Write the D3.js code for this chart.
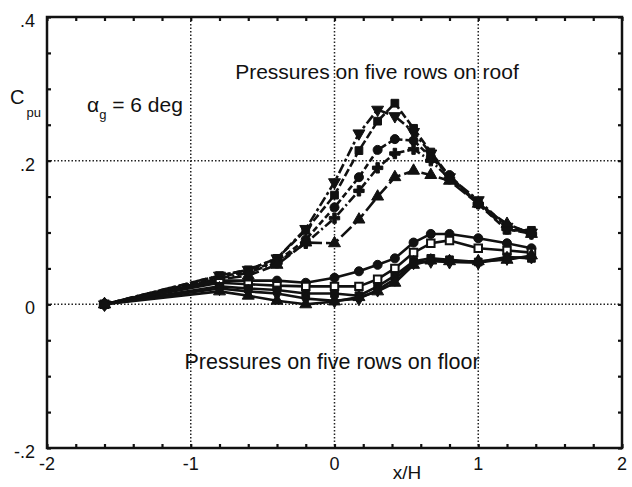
<!DOCTYPE html>
<html>
<head>
<meta charset="utf-8">
<script src="https://cdn.jsdelivr.net/npm/d3@7/dist/d3.min.js"></script>
<style>
  html, body { margin: 0; padding: 0; background: #fff; }
  svg { display: block; }
  text { font-family: "Liberation Sans", Arial, Helvetica, sans-serif; fill: #111; }
</style>
</head>
<body>
<svg id="chart" width="632" height="487"></svg>
<script>
// Tap positions along the model, x/H
const xPos = [-1.6, -0.8, -0.6, -0.4, -0.2, 0, 0.17, 0.3, 0.42, 0.55, 0.67, 0.8, 1.0, 1.2, 1.37];

// Roof rows (Cpu)
const roofRow1 = [0, 0.040, 0.048, 0.064, 0.105, 0.170, 0.238, 0.271, 0.262, 0.240, 0.210, 0.177, 0.145, 0.108, 0.100];
const roofRow2 = [0, 0.040, 0.048, 0.064, 0.103, 0.152, 0.214, 0.255, 0.280, 0.245, 0.212, 0.178, 0.140, 0.103, 0.103];
const roofRow3 = [0, 0.038, 0.046, 0.060, 0.090, 0.135, 0.177, 0.215, 0.230, 0.228, 0.205, 0.180, 0.140, 0.110, 0.100];
const roofRow4 = [0, 0.036, 0.044, 0.058, 0.085, 0.120, 0.158, 0.190, 0.210, 0.216, 0.200, 0.175, 0.140, 0.105, 0.098];
const roofRow5 = [0, 0.035, 0.040, 0.055, 0.086, 0.085, 0.118, 0.150, 0.177, 0.186, 0.180, 0.172, 0.140, 0.112, 0.098];

// Floor rows (Cpu)
const floorRow1 = [0, 0.033, 0.033, 0.033, 0.030, 0.037, 0.046, 0.055, 0.064, 0.086, 0.098, 0.098, 0.092, 0.085, 0.078];
const floorRow2 = [0, 0.030, 0.028, 0.026, 0.025, 0.025, 0.025, 0.035, 0.050, 0.072, 0.085, 0.089, 0.078, 0.075, 0.072];
const floorRow3 = [0, 0.025, 0.022, 0.020, 0.015, 0.015, 0.012, 0.025, 0.040, 0.060, 0.064, 0.062, 0.059, 0.066, 0.064];
const floorRow4 = [0, 0.022, 0.018, 0.015, 0.008, 0.005, 0.008, 0.020, 0.035, 0.058, 0.060, 0.059, 0.058, 0.064, 0.066];
const floorRow5 = [0, 0.018, 0.012, 0.005, 0.000, 0.004, 0.010, 0.018, 0.030, 0.055, 0.061, 0.060, 0.060, 0.062, 0.068];

const xTickLabels = ["-2", "-1", "0", "1", "2"];
const yTickLabels = ["-.2", "0", ".2", ".4"];
const xTickValues = [-2, -1, 0, 1, 2];
const yTickValues = [-0.2, 0, 0.2, 0.4];

const series = [
  { values: roofRow1, dash: "10,3,3,3", marker: "triangleDown" },
  { values: roofRow2, dash: "8,3",      marker: "square" },
  { values: roofRow3, dash: "6,3",      marker: "circle" },
  { values: roofRow4, dash: "9,3,2,3",  marker: "plus" },
  { values: roofRow5, dash: "14,4",     marker: "triangle" },
  { values: floorRow1, dash: null, marker: "circle" },
  { values: floorRow2, dash: null, marker: "squareOpen" },
  { values: floorRow3, dash: null, marker: "square" },
  { values: floorRow4, dash: null, marker: "diamond" },
  { values: floorRow5, dash: null, marker: "triangle" }
];

const svg = d3.select("#chart");
const x = d3.scaleLinear().domain([-2, 2]).range([47, 622]);
const y = d3.scaleLinear().domain([-0.2, 0.4]).range([448, 17]);

// dotted grid
const grid = svg.append("g").attr("stroke", "#222").attr("stroke-width", 1.5).attr("stroke-dasharray", "1.5,2");
[-1, 0, 1].forEach(v => grid.append("line").attr("x1", x(v)).attr("x2", x(v)).attr("y1", y(0.4)).attr("y2", y(-0.2)));
[0, 0.2].forEach(v => grid.append("line").attr("y1", y(v)).attr("y2", y(v)).attr("x1", x(-2)).attr("x2", x(2)));

// inward ticks on all four sides
const tickLen = 4;
svg.append("g").attr("transform", `translate(0,${y(-0.2)})`)
  .call(d3.axisTop(x).tickValues(d3.range(-2, 2.01, 0.2)).tickSize(tickLen).tickFormat(""))
  .call(g => g.select(".domain").remove());
svg.append("g").attr("transform", `translate(0,${y(0.4)})`)
  .call(d3.axisBottom(x).tickValues(d3.range(-2, 2.01, 0.2)).tickSize(tickLen).tickFormat(""))
  .call(g => g.select(".domain").remove());
svg.append("g").attr("transform", `translate(${x(-2)},0)`)
  .call(d3.axisRight(y).tickValues(d3.range(-0.2, 0.401, 0.05)).tickSize(tickLen).tickFormat(""))
  .call(g => g.select(".domain").remove());
svg.append("g").attr("transform", `translate(${x(2)},0)`)
  .call(d3.axisLeft(y).tickValues(d3.range(-0.2, 0.401, 0.05)).tickSize(tickLen).tickFormat(""))
  .call(g => g.select(".domain").remove());
svg.selectAll(".tick line").attr("stroke", "#111").attr("stroke-width", 2.2);

// frame
svg.append("rect").attr("x", x(-2)).attr("y", y(0.4))
  .attr("width", x(2) - x(-2)).attr("height", y(-0.2) - y(0.4))
  .attr("fill", "none").attr("stroke", "#111").attr("stroke-width", 2.5);

// tick labels
svg.append("g").selectAll("text").data(xTickValues).join("text")
  .attr("x", d => x(d)).attr("y", 470).attr("text-anchor", "middle")
  .attr("font-size", 18).text((d, i) => xTickLabels[i]);
svg.append("g").selectAll("text").data(yTickValues).join("text")
  .attr("x", 35).attr("y", d => y(d) + 10).attr("text-anchor", "end")
  .attr("font-size", 18).text((d, i) => yTickLabels[i]);

// lines and markers
const line = d3.line().x((d, i) => x(xPos[i])).y(d => y(d));
const symbolFor = {
  square: d3.symbolSquare, squareOpen: d3.symbolSquare, circle: d3.symbolCircle,
  diamond: d3.symbolDiamond, triangle: d3.symbolTriangle, triangleDown: d3.symbolTriangle,
  plus: d3.symbolCross
};
const sizeFor = { square: 60, squareOpen: 56, circle: 64, diamond: 58, triangle: 62, triangleDown: 62, plus: 60 };

series.forEach(s => {
  svg.append("path").datum(s.values)
    .attr("d", line).attr("fill", "none").attr("stroke", "#111")
    .attr("stroke-width", 2.6).attr("stroke-linejoin", "round")
    .attr("stroke-dasharray", s.dash);
  svg.append("g").selectAll("path").data(s.values).join("path")
    .attr("transform", (d, i) => `translate(${x(xPos[i])},${y(d)})${s.marker === "triangleDown" ? " rotate(180)" : ""}`)
    .attr("d", d3.symbol().type(symbolFor[s.marker]).size(sizeFor[s.marker]))
    .attr("fill", s.marker === "squareOpen" ? "#fff" : "#111")
    .attr("stroke", "#111").attr("stroke-width", s.marker === "squareOpen" ? 2 : 1);
});

// annotations
svg.append("text").attr("x", 377).attr("y", 79).attr("text-anchor", "middle")
  .attr("font-size", 21).text("Pressures on five rows on roof");
svg.append("text").attr("x", 332).attr("y", 369).attr("text-anchor", "middle")
  .attr("font-size", 21.5).text("Pressures on five rows on floor");

const alpha = svg.append("text").attr("x", 87).attr("y", 112).attr("font-size", 21);
alpha.append("tspan").text("α");
alpha.append("tspan").attr("font-size", 13).attr("dy", 7).text("g");
alpha.append("tspan").attr("dy", -7).text(" = 6 deg");

const cpu = svg.append("text").attr("x", 10).attr("y", 104).attr("font-size", 20);
cpu.append("tspan").text("C");
cpu.append("tspan").attr("font-size", 13).attr("dy", 13).attr("dx", 2).text("pu");

svg.append("text").attr("x", 407).attr("y", 479).attr("text-anchor", "middle")
  .attr("font-size", 19).text("x/H");
</script>
</body>
</html>
